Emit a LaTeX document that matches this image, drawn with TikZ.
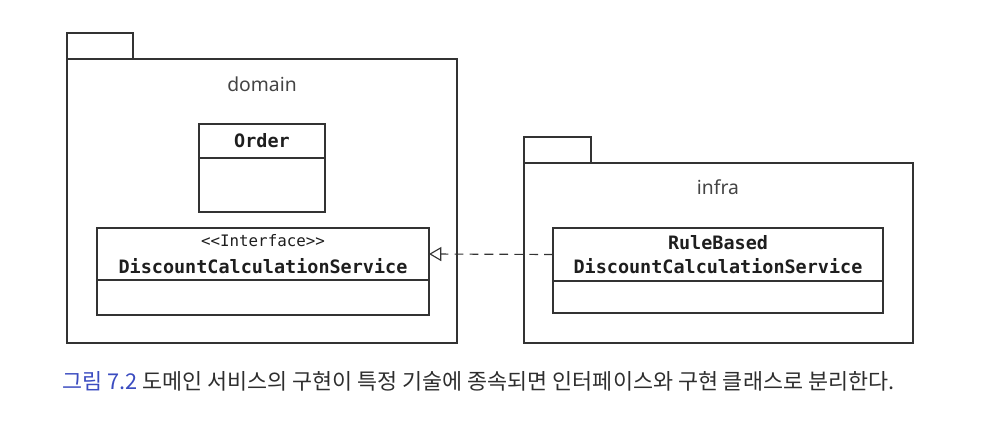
\documentclass[tikz,border=0pt]{standalone}
\usepackage{fontspec}
\setmainfont{Noto Sans}
\setmonofont{DejaVu Sans Mono}
\newfontfamily\cjkfont{Noto Sans CJK KR}
\usetikzlibrary{arrows.meta, positioning}
\definecolor{umlLine}{HTML}{333333}
\definecolor{umlText}{HTML}{1E1E1E}
\definecolor{pkgText}{HTML}{444444}
\definecolor{capBlue}{HTML}{3B4CC0}
\definecolor{capText}{HTML}{2E2E2E}
\newcommand{\stereofont}{\ttfamily\mdseries\fontsize{9}{11}\selectfont}
\tikzset{
  umlfig/.style={
    every node/.append style={text=umlText},
    line width=0.65pt,
  },
  pkgbody/.style={
    draw=umlLine, line width=0.65pt, rectangle, inner sep=0pt, outer sep=0pt,
    anchor=north west,
  },
  pkgtab/.style={pkgbody, anchor=south west, minimum height=0.52cm},
  pkglabel/.style={font=\fontsize{11}{13}\selectfont, text=pkgText, inner sep=0pt},
  % Klassenkopf mit Namen, darunter ein leeres Feld
  classhead/.style={
    draw=umlLine, line width=0.65pt, rectangle, inner sep=0pt, outer sep=0pt,
    align=center, font=\ttfamily\bfseries\fontsize{10.5}{14}\selectfont,
  },
  classbody/.style={classhead, anchor=north},
  realize/.style={draw=umlLine, line width=0.65pt, dash pattern=on 5pt off 3.5pt,
    -{Triangle[open, length=7pt, width=8pt]}},
}

\begin{document}
\begin{tikzpicture}[umlfig]
  \useasboundingbox (0,0) rectangle (20,-8.6);

  % Paket domain
  \node[pkgbody, minimum width=7.8cm, minimum height=5.68cm] (domainPkg) at (1.34,-1.18) {};
  \node[pkgtab, minimum width=1.32cm] (domainTab) at (domainPkg.north west) {};
  \node[pkglabel] (domainLbl) at (5.24,-1.68) {domain};

  \node[classhead, minimum width=2.52cm, minimum height=0.68cm] (orderHead) at (5.24,-2.82) {Order};
  \node[classbody, minimum width=2.52cm, minimum height=1.08cm] (orderBody) at (orderHead.south) {};

  \node[classhead, minimum width=6.64cm, minimum height=1.04cm] (ifaceHead) at (5.26,-5.08)
    {{\stereofont <<Interface>>}\\[1pt]DiscountCalculationService};
  \node[classbody, minimum width=6.64cm, minimum height=0.7cm] (ifaceBody) at (ifaceHead.south) {};

  % Paket infra
  \node[pkgbody, minimum width=7.78cm, minimum height=3.6cm] (infraPkg) at (10.48,-3.26) {};
  \node[pkgtab, minimum width=1.34cm] (infraTab) at (infraPkg.north west) {};
  \node[pkglabel] (infraLbl) at (14.36,-3.74) {infra};

  \node[classhead, minimum width=6.6cm, minimum height=1.06cm] (ruleHead) at (14.36,-5.09)
    {RuleBased\\[0pt]DiscountCalculationService};
  \node[classbody, minimum width=6.6cm, minimum height=0.64cm] (ruleBody) at (ruleHead.south) {};

  \draw[realize] (ruleHead.west) -- (ifaceHead.east);

  % Bildunterschrift
  \node[anchor=west, inner sep=0pt, font=\cjkfont\fontsize{12.4}{14}\selectfont, text=capText] (caption) at (1.24,-7.62)
    {\textcolor{capBlue}{그림 7.2} 도메인 서비스의 구현이 특정 기술에 종속되면 인터페이스와 구현 클래스로 분리한다.};
\end{tikzpicture}
\end{document}
